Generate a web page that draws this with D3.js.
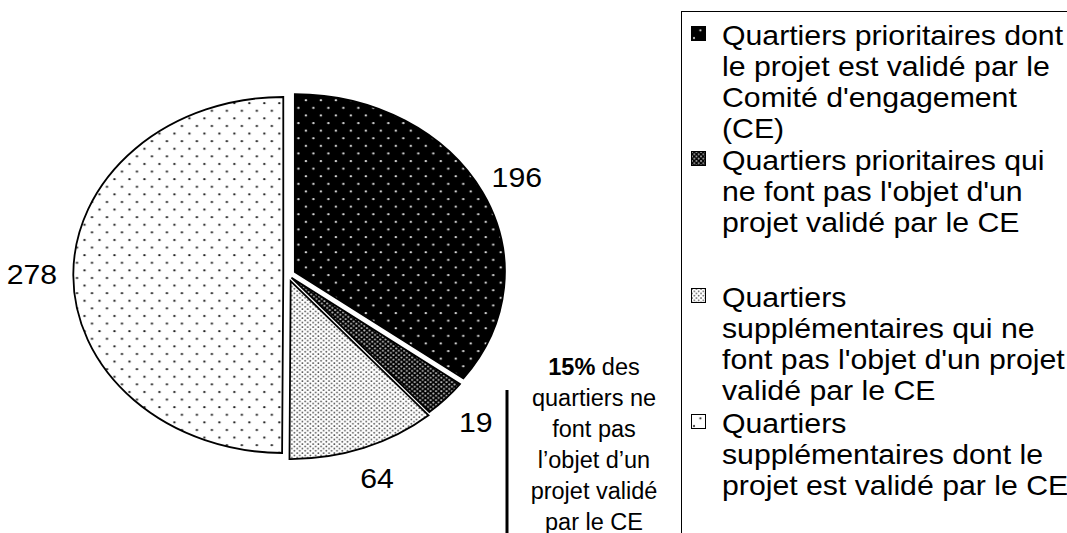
<!DOCTYPE html>
<html>
<head>
<meta charset="utf-8">
<script src="https://cdn.jsdelivr.net/npm/d3@7"></script>
<style>
  body { margin: 0; background: #fff; }
  svg { display: block; }
  text { font-family: "Liberation Sans", Arial, sans-serif; fill: #000; }
</style>
</head>
<body>
<svg id="chart"></svg>
<script>
// data
const categories = [
  "Quartiers prioritaires dont le projet est validé par le Comité d'engagement (CE)",
  "Quartiers prioritaires qui ne font pas l'objet d'un projet validé par le CE",
  "Quartiers supplémentaires qui ne font pas l'objet d'un projet validé par le CE",
  "Quartiers supplémentaires dont le projet est validé par le CE"
];
const values = [196, 19, 64, 278];
const legendLines = [
  ["Quartiers prioritaires dont", "le projet est validé par le", "Comité d'engagement", "(CE)"],
  ["Quartiers prioritaires qui", "ne font pas l'objet d'un", "projet validé par le CE"],
  ["Quartiers", "supplémentaires qui ne", "font pas l'objet d'un projet", "validé par le CE"],
  ["Quartiers", "supplémentaires dont le", "projet est validé par le CE"]
];
const noteBold = "15%";
const noteLines = ["15% des", "quartiers ne", "font pas", "l’objet d’un", "projet validé", "par le CE"];

// layout / style
const width = 1067, height = 533;
const sx = 1.18;              // the pie is an ellipse, wider than tall
const tx = 1.10;              // text is slightly stretched too
const cx = 288, cy = 275, r = 178;
const explode = [6.5, 4, 6.5, 4];
const patternIds = ["pDarkSparse", "pDarkDense", "pLightDense", "pLightSparse"];
const legendY = [35, 160, 297, 423];
const lineH = 31;
const fontSize = 27.5;
const noteSize = 23.5;

const svg = d3.select("#chart").attr("width", width).attr("height", height);

// fill patterns
const defs = svg.append("defs");
function dotPattern(id, w, h, bg, dot, rad, pts) {
  const p = defs.append("pattern")
    .attr("id", id)
    .attr("patternUnits", "userSpaceOnUse")
    .attr("width", w).attr("height", h);
  p.append("rect").attr("width", w).attr("height", h).attr("fill", bg);
  pts.forEach(([x, y]) => p.append("circle").attr("cx", x).attr("cy", y).attr("r", rad).attr("fill", dot));
}
dotPattern("pDarkSparse", 12.7, 15.2, "#000", "#e0e0e0", 1.05, [[3, 3], [9.35, 10.6]]);
dotPattern("pDarkDense", 4.5, 4.5, "#000", "#bbb", 0.95, [[1, 1], [3.25, 3.25]]);
dotPattern("pLightDense", 4.5, 4.5, "#fff", "#3a3a3a", 0.8, [[1, 1], [3.25, 3.25]]);
dotPattern("pLightSparse", 12.7, 15.2, "#fff", "#222", 1.05, [[3, 3], [9.35, 10.6]]);

// pie
const pie = d3.pie().sort(null).value(d => d)(values);
const arc = d3.arc().innerRadius(0).outerRadius(r);
const labelArc = d3.arc().innerRadius(217).outerRadius(217);

const g = svg.append("g").attr("transform", `translate(${cx},${cy}) scale(${sx},1)`);

g.selectAll("path.slice")
  .data(pie)
  .join("path")
  .attr("class", "slice")
  .attr("transform", (d, i) => {
    const mid = (d.startAngle + d.endAngle) / 2;
    return `translate(${Math.sin(mid) * explode[i]},${-Math.cos(mid) * explode[i]})`;
  })
  .attr("d", arc)
  .attr("fill", (d, i) => `url(#${patternIds[i]})`)
  .attr("stroke", "#000")
  .attr("stroke-width", 1.8)
  .attr("vector-effect", "non-scaling-stroke");

// value labels (placed in screen space, stretched like the text of the original)
svg.selectAll("text.val")
  .data(pie)
  .join("text")
  .attr("class", "val")
  .attr("transform", d => {
    const [x, y] = labelArc.centroid(d);
    return `translate(${cx + x * sx},${cy + y}) scale(${tx},1)`;
  })
  .attr("text-anchor", "middle")
  .attr("dy", "0.35em")
  .attr("font-size", fontSize)
  .text(d => d.data);

// legend box
svg.append("rect")
  .attr("x", 681.5).attr("y", 11.5)
  .attr("width", 600).attr("height", 600)
  .attr("fill", "none").attr("stroke", "#000").attr("stroke-width", 1);

const leg = svg.selectAll("g.leg")
  .data(categories)
  .join("g")
  .attr("class", "leg")
  .attr("transform", (d, i) => `translate(691,${legendY[i]})`);

leg.append("rect")
  .attr("x", 0.5).attr("y", -8.5)
  .attr("width", 14).attr("height", 14)
  .attr("fill", (d, i) => `url(#${patternIds[i]})`)
  .attr("stroke", "#000").attr("stroke-width", 1);

leg.each(function(d, i) {
  d3.select(this).selectAll("text")
    .data(legendLines[i])
    .join("text")
    .attr("transform", (t, j) => `translate(31,${j * lineH}) scale(${tx},1)`)
    .attr("dy", "0.35em")
    .attr("font-size", fontSize)
    .text(t => t);
});

// note with vertical bar
svg.append("line")
  .attr("x1", 507).attr("x2", 507)
  .attr("y1", 390).attr("y2", height)
  .attr("stroke", "#000").attr("stroke-width", 3);

const note = svg.selectAll("text.note")
  .data(noteLines)
  .join("text")
  .attr("class", "note")
  .attr("transform", (t, j) => `translate(594,${367 + j * 31})`)
  .attr("text-anchor", "middle")
  .attr("dy", "0.35em")
  .attr("font-size", noteSize);

note.each(function(t) {
  const el = d3.select(this);
  if (t.startsWith(noteBold)) {
    el.append("tspan").attr("font-weight", "bold").text(noteBold);
    el.append("tspan").text(t.slice(noteBold.length));
  } else {
    el.text(t);
  }
});
</script>
</body>
</html>
